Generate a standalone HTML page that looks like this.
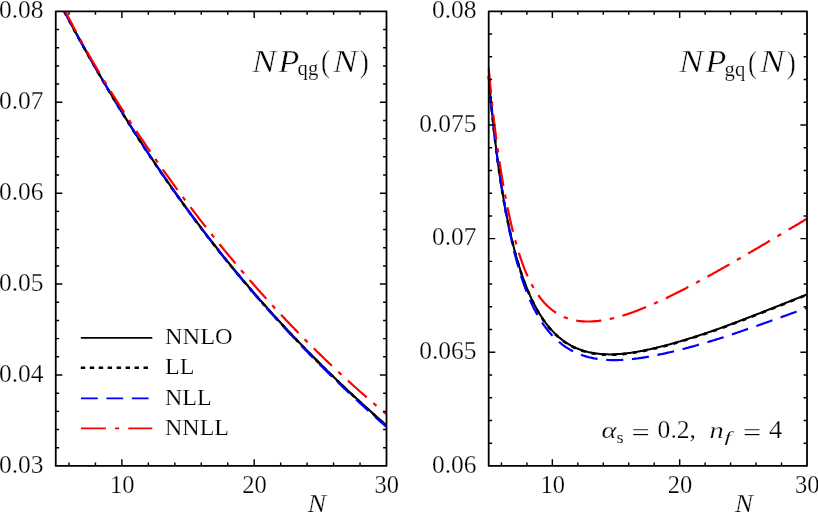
<!DOCTYPE html>
<html><head><meta charset="utf-8"><title>chart</title>
<style>html,body{margin:0;padding:0;background:#fff;overflow:hidden}body{width:818px;height:512px;font-family:"Liberation Serif",serif}</style>
</head><body>
<svg width="818" height="512" viewBox="0 0 818 512" style="display:block;will-change:transform">
<rect width="818" height="512" fill="#fff"/>
<defs>
<clipPath id="cl"><rect x="55.75" y="11.35" width="330.75" height="454.54999999999995"/></clipPath>
<clipPath id="cr"><rect x="487.4" y="11.35" width="319.6" height="454.54999999999995"/></clipPath>
</defs>
<g fill="none" stroke-linecap="butt" stroke-linejoin="round">
<g clip-path="url(#cl)">
<path d="M64.3,11.2 L65.0,12.6 L66.0,14.5 L67.0,16.3 L68.0,18.2 L69.0,20.1 L70.0,21.9 L71.0,23.8 L72.0,25.7 L73.0,27.5 L74.0,29.4 L75.0,31.2 L76.0,33.0 L77.0,34.8 L78.0,36.7 L79.0,38.5 L80.0,40.3 L81.0,42.1 L82.0,43.9 L83.0,45.7 L84.0,47.5 L85.0,49.3 L86.0,51.1 L87.0,52.9 L88.0,54.6 L89.0,56.4 L90.0,58.2 L91.0,59.9 L92.0,61.7 L93.0,63.4 L94.0,65.2 L95.0,66.9 L96.0,68.7 L97.0,70.4 L98.0,72.1 L99.0,73.8 L100.0,75.6 L101.0,77.3 L102.0,79.0 L103.0,80.7 L104.0,82.4 L105.0,84.1 L106.0,85.8 L107.0,87.5 L108.0,89.1 L109.0,90.8 L110.0,92.5 L111.0,94.2 L112.0,95.8 L113.0,97.5 L114.0,99.1 L115.0,100.8 L116.0,102.4 L117.0,104.1 L118.0,105.7 L119.0,107.3 L120.0,109.0 L121.0,110.6 L122.0,112.2 L123.0,113.8 L124.0,115.4 L125.0,117.1 L126.0,118.7 L127.0,120.3 L128.0,121.9 L129.0,123.4 L130.0,125.0 L131.0,126.6 L132.0,128.2 L133.0,129.8 L134.0,131.3 L135.0,132.9 L136.0,134.5 L137.0,136.0 L138.0,137.6 L139.0,139.1 L140.0,140.7 L141.0,142.2 L142.0,143.7 L143.0,145.3 L144.0,146.8 L145.0,148.3 L146.0,149.8 L147.0,151.4 L148.0,152.9 L149.0,154.4 L150.0,155.9 L151.0,157.4 L152.0,158.9 L153.0,160.4 L154.0,161.9 L155.0,163.3 L156.0,164.8 L157.0,166.3 L158.0,167.8 L159.0,169.2 L160.0,170.7 L161.0,172.2 L162.0,173.6 L163.0,175.1 L164.0,176.5 L165.0,178.0 L166.0,179.4 L167.0,180.9 L168.0,182.3 L169.0,183.7 L170.0,185.1 L171.0,186.6 L172.0,188.0 L173.0,189.4 L174.0,190.8 L175.0,192.2 L176.0,193.6 L177.0,195.0 L178.0,196.4 L179.0,197.8 L180.0,199.2 L181.0,200.6 L182.0,202.0 L183.0,203.4 L184.0,204.7 L185.0,206.1 L186.0,207.5 L187.0,208.9 L188.0,210.2 L189.0,211.6 L190.0,212.9 L191.0,214.3 L192.0,215.6 L193.0,217.0 L194.0,218.3 L195.0,219.7 L196.0,221.0 L197.0,222.3 L198.0,223.7 L199.0,225.0 L200.0,226.3 L201.0,227.6 L202.0,228.9 L203.0,230.3 L204.0,231.6 L205.0,232.9 L206.0,234.2 L207.0,235.5 L208.0,236.8 L209.0,238.1 L210.0,239.3 L211.0,240.6 L212.0,241.9 L213.0,243.2 L214.0,244.5 L215.0,245.7 L216.0,247.0 L217.0,248.3 L218.0,249.5 L219.0,250.8 L220.0,252.1 L221.0,253.3 L222.0,254.6 L223.0,255.8 L224.0,257.1 L225.0,258.3 L226.0,259.5 L227.0,260.8 L228.0,262.0 L229.0,263.2 L230.0,264.5 L231.0,265.7 L232.0,266.9 L233.0,268.1 L234.0,269.3 L235.0,270.5 L236.0,271.7 L237.0,272.9 L238.0,274.1 L239.0,275.3 L240.0,276.5 L241.0,277.7 L242.0,278.9 L243.0,280.1 L244.0,281.3 L245.0,282.5 L246.0,283.7 L247.0,284.8 L248.0,286.0 L249.0,287.2 L250.0,288.3 L251.0,289.5 L252.0,290.7 L253.0,291.8 L254.0,293.0 L255.0,294.1 L256.0,295.3 L257.0,296.4 L258.0,297.6 L259.0,298.7 L260.0,299.9 L261.0,301.0 L262.0,302.1 L263.0,303.3 L264.0,304.4 L265.0,305.5 L266.0,306.6 L267.0,307.8 L268.0,308.9 L269.0,310.0 L270.0,311.1 L271.0,312.2 L272.0,313.3 L273.0,314.4 L274.0,315.5 L275.0,316.6 L276.0,317.7 L277.0,318.8 L278.0,319.9 L279.0,321.0 L280.0,322.1 L281.0,323.2 L282.0,324.2 L283.0,325.3 L284.0,326.4 L285.0,327.5 L286.0,328.5 L287.0,329.6 L288.0,330.7 L289.0,331.7 L290.0,332.8 L291.0,333.9 L292.0,334.9 L293.0,336.0 L294.0,337.0 L295.0,338.1 L296.0,339.1 L297.0,340.2 L298.0,341.2 L299.0,342.2 L300.0,343.3 L301.0,344.3 L302.0,345.4 L303.0,346.4 L304.0,347.4 L305.0,348.4 L306.0,349.5 L307.0,350.5 L308.0,351.5 L309.0,352.5 L310.0,353.5 L311.0,354.6 L312.0,355.6 L313.0,356.6 L314.0,357.6 L315.0,358.6 L316.0,359.6 L317.0,360.6 L318.0,361.6 L319.0,362.6 L320.0,363.6 L321.0,364.6 L322.0,365.6 L323.0,366.5 L324.0,367.5 L325.0,368.5 L326.0,369.5 L327.0,370.5 L328.0,371.5 L329.0,372.4 L330.0,373.4 L331.0,374.4 L332.0,375.3 L333.0,376.3 L334.0,377.3 L335.0,378.2 L336.0,379.2 L337.0,380.2 L338.0,381.1 L339.0,382.1 L340.0,383.0 L341.0,384.0 L342.0,384.9 L343.0,385.9 L344.0,386.8 L345.0,387.8 L346.0,388.7 L347.0,389.7 L348.0,390.6 L349.0,391.5 L350.0,392.5 L351.0,393.4 L352.0,394.3 L353.0,395.3 L354.0,396.2 L355.0,397.1 L356.0,398.0 L357.0,399.0 L358.0,399.9 L359.0,400.8 L360.0,401.7 L361.0,402.6 L362.0,403.6 L363.0,404.5 L364.0,405.4 L365.0,406.3 L366.0,407.2 L367.0,408.1 L368.0,409.0 L369.0,409.9 L370.0,410.8 L371.0,411.7 L372.0,412.6 L373.0,413.5 L374.0,414.4 L375.0,415.3 L376.0,416.2 L377.0,417.1 L378.0,418.0 L379.0,418.9 L380.0,419.8 L381.0,420.6 L382.0,421.5 L383.0,422.4 L384.0,423.3 L385.0,424.2 L386.0,425.0 L386.5,425.5" stroke="#000" stroke-width="2.2"/>
<path d="M64.3,11.6 L65.0,13.0 L66.0,14.9 L67.0,16.7 L68.0,18.6 L69.0,20.5 L70.0,22.3 L71.0,24.2 L72.0,26.1 L73.0,27.9 L74.0,29.8 L75.0,31.6 L76.0,33.4 L77.0,35.2 L78.0,37.1 L79.0,38.9 L80.0,40.7 L81.0,42.5 L82.0,44.3 L83.0,46.1 L84.0,47.9 L85.0,49.7 L86.0,51.5 L87.0,53.3 L88.0,55.0 L89.0,56.8 L90.0,58.6 L91.0,60.3 L92.0,62.1 L93.0,63.8 L94.0,65.6 L95.0,67.3 L96.0,69.1 L97.0,70.8 L98.0,72.5 L99.0,74.2 L100.0,76.0 L101.0,77.7 L102.0,79.4 L103.0,81.1 L104.0,82.8 L105.0,84.5 L106.0,86.2 L107.0,87.9 L108.0,89.5 L109.0,91.2 L110.0,92.9 L111.0,94.6 L112.0,96.2 L113.0,97.9 L114.0,99.5 L115.0,101.2 L116.0,102.8 L117.0,104.5 L118.0,106.1 L119.0,107.7 L120.0,109.4 L121.0,111.0 L122.0,112.6 L123.0,114.2 L124.0,115.8 L125.0,117.5 L126.0,119.1 L127.0,120.7 L128.0,122.3 L129.0,123.8 L130.0,125.4 L131.0,127.0 L132.0,128.6 L133.0,130.2 L134.0,131.7 L135.0,133.3 L136.0,134.9 L137.0,136.4 L138.0,138.0 L139.0,139.5 L140.0,141.1 L141.0,142.6 L142.0,144.1 L143.0,145.7 L144.0,147.2 L145.0,148.7 L146.0,150.2 L147.0,151.8 L148.0,153.3 L149.0,154.8 L150.0,156.3 L151.0,157.8 L152.0,159.3 L153.0,160.8 L154.0,162.3 L155.0,163.7 L156.0,165.2 L157.0,166.7 L158.0,168.2 L159.0,169.6 L160.0,171.1 L161.0,172.6 L162.0,174.0 L163.0,175.5 L164.0,176.9 L165.0,178.4 L166.0,179.8 L167.0,181.3 L168.0,182.7 L169.0,184.1 L170.0,185.5 L171.0,187.0 L172.0,188.4 L173.0,189.8 L174.0,191.2 L175.0,192.6 L176.0,194.0 L177.0,195.4 L178.0,196.8 L179.0,198.2 L180.0,199.6 L181.0,201.0 L182.0,202.4 L183.0,203.8 L184.0,205.1 L185.0,206.5 L186.0,207.9 L187.0,209.3 L188.0,210.6 L189.0,212.0 L190.0,213.3 L191.0,214.7 L192.0,216.0 L193.0,217.4 L194.0,218.7 L195.0,220.1 L196.0,221.4 L197.0,222.7 L198.0,224.1 L199.0,225.4 L200.0,226.7 L201.0,228.0 L202.0,229.3 L203.0,230.7 L204.0,232.0 L205.0,233.3 L206.0,234.6 L207.0,235.9 L208.0,237.2 L209.0,238.5 L210.0,239.7 L211.0,241.0 L212.0,242.3 L213.0,243.6 L214.0,244.9 L215.0,246.1 L216.0,247.4 L217.0,248.7 L218.0,249.9 L219.0,251.2 L220.0,252.5 L221.0,253.7 L222.0,255.0 L223.0,256.2 L224.0,257.5 L225.0,258.7 L226.0,259.9 L227.0,261.2 L228.0,262.4 L229.0,263.6 L230.0,264.9 L231.0,266.1 L232.0,267.3 L233.0,268.5 L234.0,269.7 L235.0,270.9 L236.0,272.1 L237.0,273.3 L238.0,274.5 L239.0,275.7 L240.0,276.9 L241.0,278.1 L242.0,279.3 L243.0,280.5 L244.0,281.7 L245.0,282.9 L246.0,284.1 L247.0,285.2 L248.0,286.4 L249.0,287.6 L250.0,288.7 L251.0,289.9 L252.0,291.1 L253.0,292.2 L254.0,293.4 L255.0,294.5 L256.0,295.7 L257.0,296.8 L258.0,298.0 L259.0,299.1 L260.0,300.3 L261.0,301.4 L262.0,302.5 L263.0,303.7 L264.0,304.8 L265.0,305.9 L266.0,307.0 L267.0,308.2 L268.0,309.3 L269.0,310.4 L270.0,311.5 L271.0,312.6 L272.0,313.7 L273.0,314.8 L274.0,315.9 L275.0,317.0 L276.0,318.1 L277.0,319.2 L278.0,320.3 L279.0,321.4 L280.0,322.5 L281.0,323.6 L282.0,324.6 L283.0,325.7 L284.0,326.8 L285.0,327.9 L286.0,328.9 L287.0,330.0 L288.0,331.1 L289.0,332.1 L290.0,333.2 L291.0,334.3 L292.0,335.3 L293.0,336.4 L294.0,337.4 L295.0,338.5 L296.0,339.5 L297.0,340.6 L298.0,341.6 L299.0,342.6 L300.0,343.7 L301.0,344.7 L302.0,345.8 L303.0,346.8 L304.0,347.8 L305.0,348.8 L306.0,349.9 L307.0,350.9 L308.0,351.9 L309.0,352.9 L310.0,353.9 L311.0,355.0 L312.0,356.0 L313.0,357.0 L314.0,358.0 L315.0,359.0 L316.0,360.0 L317.0,361.0 L318.0,362.0 L319.0,363.0 L320.0,364.0 L321.0,365.0 L322.0,366.0 L323.0,366.9 L324.0,367.9 L325.0,368.9 L326.0,369.9 L327.0,370.9 L328.0,371.9 L329.0,372.8 L330.0,373.8 L331.0,374.8 L332.0,375.7 L333.0,376.7 L334.0,377.7 L335.0,378.6 L336.0,379.6 L337.0,380.6 L338.0,381.5 L339.0,382.5 L340.0,383.4 L341.0,384.4 L342.0,385.3 L343.0,386.3 L344.0,387.2 L345.0,388.2 L346.0,389.1 L347.0,390.1 L348.0,391.0 L349.0,391.9 L350.0,392.9 L351.0,393.8 L352.0,394.7 L353.0,395.7 L354.0,396.6 L355.0,397.5 L356.0,398.4 L357.0,399.4 L358.0,400.3 L359.0,401.2 L360.0,402.1 L361.0,403.0 L362.0,404.0 L363.0,404.9 L364.0,405.8 L365.0,406.7 L366.0,407.6 L367.0,408.5 L368.0,409.4 L369.0,410.3 L370.0,411.2 L371.0,412.1 L372.0,413.0 L373.0,413.9 L374.0,414.8 L375.0,415.7 L376.0,416.6 L377.0,417.5 L378.0,418.4 L379.0,419.3 L380.0,420.2 L381.0,421.0 L382.0,421.9 L383.0,422.8 L384.0,423.7 L385.0,424.6 L386.0,425.4 L386.5,425.9" stroke="#000" stroke-width="2.5" stroke-dasharray="4.4 5.4"/>
<path d="M64.3,11.2 L65.0,12.6 L66.0,14.5 L67.0,16.3 L68.0,18.2 L69.0,20.1 L70.0,21.9 L71.0,23.8 L72.0,25.7 L73.0,27.5 L74.0,29.4 L75.0,31.2 L76.0,33.0 L77.0,34.8 L78.0,36.7 L79.0,38.5 L80.0,40.3 L81.0,42.1 L82.0,43.9 L83.0,45.7 L84.0,47.5 L85.0,49.3 L86.0,51.1 L87.0,52.9 L88.0,54.6 L89.0,56.4 L90.0,58.2 L91.0,59.9 L92.0,61.7 L93.0,63.4 L94.0,65.2 L95.0,66.9 L96.0,68.7 L97.0,70.4 L98.0,72.1 L99.0,73.8 L100.0,75.6 L101.0,77.3 L102.0,79.0 L103.0,80.7 L104.0,82.4 L105.0,84.1 L106.0,85.8 L107.0,87.5 L108.0,89.1 L109.0,90.8 L110.0,92.5 L111.0,94.2 L112.0,95.8 L113.0,97.5 L114.0,99.1 L115.0,100.8 L116.0,102.4 L117.0,104.1 L118.0,105.7 L119.0,107.3 L120.0,109.0 L121.0,110.6 L122.0,112.2 L123.0,113.8 L124.0,115.4 L125.0,117.1 L126.0,118.7 L127.0,120.3 L128.0,121.9 L129.0,123.4 L130.0,125.0 L131.0,126.6 L132.0,128.2 L133.0,129.8 L134.0,131.3 L135.0,132.9 L136.0,134.5 L137.0,136.0 L138.0,137.6 L139.0,139.1 L140.0,140.7 L141.0,142.2 L142.0,143.7 L143.0,145.3 L144.0,146.8 L145.0,148.3 L146.0,149.8 L147.0,151.4 L148.0,152.9 L149.0,154.4 L150.0,155.9 L151.0,157.4 L152.0,158.9 L153.0,160.4 L154.0,161.9 L155.0,163.4 L156.0,164.9 L157.0,166.3 L158.0,167.8 L159.0,169.3 L160.0,170.8 L161.0,172.2 L162.0,173.7 L163.0,175.2 L164.0,176.6 L165.0,178.1 L166.0,179.5 L167.0,181.0 L168.0,182.4 L169.0,183.8 L170.0,185.3 L171.0,186.7 L172.0,188.1 L173.0,189.6 L174.0,191.0 L175.0,192.4 L176.0,193.8 L177.0,195.2 L178.0,196.6 L179.0,198.0 L180.0,199.4 L181.0,200.8 L182.0,202.2 L183.0,203.6 L184.0,205.0 L185.0,206.4 L186.0,207.7 L187.0,209.1 L188.0,210.5 L189.0,211.8 L190.0,213.2 L191.0,214.6 L192.0,215.9 L193.0,217.3 L194.0,218.6 L195.0,220.0 L196.0,221.3 L197.0,222.6 L198.0,224.0 L199.0,225.3 L200.0,226.6 L201.0,228.0 L202.0,229.3 L203.0,230.6 L204.0,231.9 L205.0,233.2 L206.0,234.5 L207.0,235.8 L208.0,237.1 L209.0,238.4 L210.0,239.7 L211.0,241.0 L212.0,242.3 L213.0,243.6 L214.0,244.9 L215.0,246.2 L216.0,247.4 L217.0,248.7 L218.0,250.0 L219.0,251.2 L220.0,252.5 L221.0,253.8 L222.0,255.0 L223.0,256.3 L224.0,257.5 L225.0,258.8 L226.0,260.0 L227.0,261.3 L228.0,262.5 L229.0,263.7 L230.0,265.0 L231.0,266.2 L232.0,267.4 L233.0,268.7 L234.0,269.9 L235.0,271.1 L236.0,272.3 L237.0,273.5 L238.0,274.7 L239.0,275.9 L240.0,277.1 L241.0,278.3 L242.0,279.5 L243.0,280.7 L244.0,281.9 L245.0,283.1 L246.0,284.3 L247.0,285.5 L248.0,286.6 L249.0,287.8 L250.0,289.0 L251.0,290.2 L252.0,291.3 L253.0,292.5 L254.0,293.7 L255.0,294.8 L256.0,296.0 L257.0,297.1 L258.0,298.3 L259.0,299.4 L260.0,300.6 L261.0,301.7 L262.0,302.9 L263.0,304.0 L264.0,305.1 L265.0,306.3 L266.0,307.4 L267.0,308.5 L268.0,309.6 L269.0,310.8 L270.0,311.9 L271.0,313.0 L272.0,314.1 L273.0,315.2 L274.0,316.3 L275.0,317.4 L276.0,318.5 L277.0,319.6 L278.0,320.7 L279.0,321.8 L280.0,322.9 L281.0,324.0 L282.0,325.1 L283.0,326.2 L284.0,327.3 L285.0,328.3 L286.0,329.4 L287.0,330.5 L288.0,331.6 L289.0,332.6 L290.0,333.7 L291.0,334.8 L292.0,335.8 L293.0,336.9 L294.0,338.0 L295.0,339.0 L296.0,340.1 L297.0,341.1 L298.0,342.2 L299.0,343.2 L300.0,344.3 L301.0,345.3 L302.0,346.3 L303.0,347.4 L304.0,348.4 L305.0,349.5 L306.0,350.5 L307.0,351.5 L308.0,352.5 L309.0,353.6 L310.0,354.6 L311.0,355.6 L312.0,356.6 L313.0,357.6 L314.0,358.7 L315.0,359.7 L316.0,360.7 L317.0,361.7 L318.0,362.7 L319.0,363.7 L320.0,364.7 L321.0,365.7 L322.0,366.7 L323.0,367.7 L324.0,368.7 L325.0,369.7 L326.0,370.6 L327.0,371.6 L328.0,372.6 L329.0,373.6 L330.0,374.6 L331.0,375.6 L332.0,376.5 L333.0,377.5 L334.0,378.5 L335.0,379.4 L336.0,380.4 L337.0,381.4 L338.0,382.3 L339.0,383.3 L340.0,384.3 L341.0,385.2 L342.0,386.2 L343.0,387.1 L344.0,388.1 L345.0,389.0 L346.0,390.0 L347.0,390.9 L348.0,391.9 L349.0,392.8 L350.0,393.8 L351.0,394.7 L352.0,395.7 L353.0,396.6 L354.0,397.5 L355.0,398.5 L356.0,399.4 L357.0,400.3 L358.0,401.2 L359.0,402.2 L360.0,403.1 L361.0,404.0 L362.0,404.9 L363.0,405.9 L364.0,406.8 L365.0,407.7 L366.0,408.6 L367.0,409.5 L368.0,410.4 L369.0,411.3 L370.0,412.3 L371.0,413.2 L372.0,414.1 L373.0,415.0 L374.0,415.9 L375.0,416.8 L376.0,417.7 L377.0,418.6 L378.0,419.5 L379.0,420.4 L380.0,421.3 L381.0,422.1 L382.0,423.0 L383.0,423.9 L384.0,424.8 L385.0,425.7 L386.0,426.5 L386.5,427.0" stroke="#00f" stroke-width="2.2" stroke-dasharray="16.9 8.8"/>
<path d="M64.3,11.2 L65.0,10.6 L66.0,12.6 L67.0,14.5 L68.0,16.5 L69.0,18.4 L70.0,20.3 L71.0,22.2 L72.0,24.1 L73.0,26.0 L74.0,27.9 L75.0,29.8 L76.0,31.6 L77.0,33.5 L78.0,35.3 L79.0,37.2 L80.0,39.0 L81.0,40.8 L82.0,42.6 L83.0,44.4 L84.0,46.2 L85.0,48.0 L86.0,49.8 L87.0,51.5 L88.0,53.3 L89.0,55.1 L90.0,56.8 L91.0,58.5 L92.0,60.3 L93.0,62.0 L94.0,63.7 L95.0,65.4 L96.0,67.1 L97.0,68.8 L98.0,70.5 L99.0,72.2 L100.0,73.8 L101.0,75.5 L102.0,77.2 L103.0,78.8 L104.0,80.5 L105.0,82.1 L106.0,83.7 L107.0,85.4 L108.0,87.0 L109.0,88.6 L110.0,90.2 L111.0,91.8 L112.0,93.4 L113.0,95.0 L114.0,96.6 L115.0,98.2 L116.0,99.8 L117.0,101.4 L118.0,102.9 L119.0,104.5 L120.0,106.1 L121.0,107.6 L122.0,109.2 L123.0,110.7 L124.0,112.3 L125.0,113.8 L126.0,115.3 L127.0,116.9 L128.0,118.4 L129.0,119.9 L130.0,121.5 L131.0,123.0 L132.0,124.5 L133.0,126.0 L134.0,127.5 L135.0,129.0 L136.0,130.5 L137.0,132.0 L138.0,133.5 L139.0,135.0 L140.0,136.5 L141.0,138.0 L142.0,139.5 L143.0,140.9 L144.0,142.4 L145.0,143.9 L146.0,145.4 L147.0,146.8 L148.0,148.3 L149.0,149.7 L150.0,151.2 L151.0,152.6 L152.0,154.1 L153.0,155.5 L154.0,157.0 L155.0,158.4 L156.0,159.8 L157.0,161.3 L158.0,162.7 L159.0,164.1 L160.0,165.5 L161.0,166.9 L162.0,168.3 L163.0,169.8 L164.0,171.2 L165.0,172.6 L166.0,174.0 L167.0,175.4 L168.0,176.7 L169.0,178.1 L170.0,179.5 L171.0,180.9 L172.0,182.3 L173.0,183.7 L174.0,185.0 L175.0,186.4 L176.0,187.8 L177.0,189.1 L178.0,190.5 L179.0,191.8 L180.0,193.2 L181.0,194.5 L182.0,195.9 L183.0,197.2 L184.0,198.6 L185.0,199.9 L186.0,201.2 L187.0,202.6 L188.0,203.9 L189.0,205.2 L190.0,206.5 L191.0,207.9 L192.0,209.2 L193.0,210.5 L194.0,211.8 L195.0,213.1 L196.0,214.4 L197.0,215.7 L198.0,217.0 L199.0,218.3 L200.0,219.6 L201.0,220.9 L202.0,222.2 L203.0,223.4 L204.0,224.7 L205.0,226.0 L206.0,227.3 L207.0,228.5 L208.0,229.8 L209.0,231.1 L210.0,232.3 L211.0,233.6 L212.0,234.8 L213.0,236.1 L214.0,237.3 L215.0,238.6 L216.0,239.8 L217.0,241.1 L218.0,242.3 L219.0,243.5 L220.0,244.8 L221.0,246.0 L222.0,247.2 L223.0,248.4 L224.0,249.7 L225.0,250.9 L226.0,252.1 L227.0,253.3 L228.0,254.5 L229.0,255.7 L230.0,256.9 L231.0,258.1 L232.0,259.3 L233.0,260.5 L234.0,261.7 L235.0,262.9 L236.0,264.1 L237.0,265.3 L238.0,266.5 L239.0,267.6 L240.0,268.8 L241.0,270.0 L242.0,271.2 L243.0,272.3 L244.0,273.5 L245.0,274.6 L246.0,275.8 L247.0,277.0 L248.0,278.1 L249.0,279.3 L250.0,280.4 L251.0,281.6 L252.0,282.7 L253.0,283.8 L254.0,285.0 L255.0,286.1 L256.0,287.2 L257.0,288.4 L258.0,289.5 L259.0,290.6 L260.0,291.7 L261.0,292.9 L262.0,294.0 L263.0,295.1 L264.0,296.2 L265.0,297.3 L266.0,298.4 L267.0,299.5 L268.0,300.6 L269.0,301.7 L270.0,302.8 L271.0,303.9 L272.0,305.0 L273.0,306.1 L274.0,307.2 L275.0,308.3 L276.0,309.3 L277.0,310.4 L278.0,311.5 L279.0,312.6 L280.0,313.6 L281.0,314.7 L282.0,315.8 L283.0,316.8 L284.0,317.9 L285.0,318.9 L286.0,320.0 L287.0,321.0 L288.0,322.1 L289.0,323.1 L290.0,324.2 L291.0,325.2 L292.0,326.3 L293.0,327.3 L294.0,328.3 L295.0,329.4 L296.0,330.4 L297.0,331.4 L298.0,332.5 L299.0,333.5 L300.0,334.5 L301.0,335.5 L302.0,336.5 L303.0,337.5 L304.0,338.6 L305.0,339.6 L306.0,340.6 L307.0,341.6 L308.0,342.6 L309.0,343.6 L310.0,344.6 L311.0,345.6 L312.0,346.6 L313.0,347.5 L314.0,348.5 L315.0,349.5 L316.0,350.5 L317.0,351.5 L318.0,352.5 L319.0,353.4 L320.0,354.4 L321.0,355.4 L322.0,356.3 L323.0,357.3 L324.0,358.3 L325.0,359.2 L326.0,360.2 L327.0,361.1 L328.0,362.1 L329.0,363.1 L330.0,364.0 L331.0,365.0 L332.0,365.9 L333.0,366.8 L334.0,367.8 L335.0,368.7 L336.0,369.7 L337.0,370.6 L338.0,371.5 L339.0,372.5 L340.0,373.4 L341.0,374.3 L342.0,375.2 L343.0,376.2 L344.0,377.1 L345.0,378.0 L346.0,378.9 L347.0,379.8 L348.0,380.7 L349.0,381.6 L350.0,382.5 L351.0,383.4 L352.0,384.3 L353.0,385.2 L354.0,386.1 L355.0,387.0 L356.0,387.9 L357.0,388.8 L358.0,389.7 L359.0,390.6 L360.0,391.5 L361.0,392.4 L362.0,393.2 L363.0,394.1 L364.0,395.0 L365.0,395.9 L366.0,396.7 L367.0,397.6 L368.0,398.5 L369.0,399.3 L370.0,400.2 L371.0,401.1 L372.0,401.9 L373.0,402.8 L374.0,403.6 L375.0,404.5 L376.0,405.4 L377.0,406.2 L378.0,407.0 L379.0,407.9 L380.0,408.7 L381.0,409.6 L382.0,410.4 L383.0,411.3 L384.0,412.1 L385.0,412.9 L386.0,413.8 L386.5,414.2" stroke="#f00" stroke-width="2.2" stroke-dasharray="25.2 8.7 4.3 8.7"/>
</g>
<g clip-path="url(#cr)">
<path d="M488.7,75.8 L489.2,81.7 L489.7,87.4 L490.2,92.9 L490.7,98.3 L491.2,103.5 L491.7,108.6 L492.2,113.6 L492.7,118.4 L493.2,123.1 L493.7,127.7 L494.2,132.2 L494.7,136.5 L495.2,140.8 L495.7,144.9 L496.2,149.0 L496.7,152.9 L497.2,156.8 L497.7,160.6 L498.2,164.2 L498.7,167.8 L499.2,171.4 L499.7,174.8 L500.2,178.2 L500.7,181.4 L501.2,184.7 L501.7,187.8 L502.2,190.9 L502.7,193.9 L503.2,196.9 L503.7,199.8 L504.2,202.6 L504.7,205.4 L505.2,208.1 L505.7,210.8 L506.2,213.4 L506.7,215.9 L507.2,218.4 L507.7,220.9 L508.2,223.3 L508.7,225.7 L509.2,228.0 L509.7,230.3 L510.2,232.5 L510.7,234.7 L511.2,236.9 L511.7,239.0 L512.2,241.1 L512.7,243.1 L513.2,245.1 L513.7,247.1 L514.2,249.0 L514.7,250.9 L515.2,252.7 L515.7,254.6 L516.2,256.4 L516.7,258.1 L517.2,259.9 L517.7,261.6 L518.2,263.2 L518.7,264.9 L519.2,266.5 L519.7,268.1 L520.2,269.6 L520.7,271.2 L521.2,272.7 L521.7,274.2 L522.2,275.6 L522.7,277.0 L523.2,278.4 L523.7,279.8 L524.2,281.2 L524.7,282.5 L525.2,283.9 L525.7,285.1 L526.2,286.4 L526.7,287.7 L527.2,288.9 L527.7,290.1 L528.2,291.3 L528.7,292.5 L529.2,293.6 L529.7,294.8 L530.2,295.9 L530.7,297.0 L531.2,298.1 L531.7,299.1 L532.2,300.2 L532.7,301.2 L533.2,302.2 L533.7,303.2 L534.2,304.2 L534.7,305.2 L535.2,306.1 L535.7,307.0 L536.2,308.0 L536.7,308.9 L537.2,309.8 L537.7,310.6 L538.2,311.5 L538.7,312.3 L539.2,313.2 L539.7,314.0 L540.0,314.5 L541.0,316.1 L542.0,317.6 L543.0,319.1 L544.0,320.5 L545.0,321.9 L546.0,323.3 L547.0,324.6 L548.0,325.8 L549.0,327.1 L550.0,328.2 L551.0,329.4 L552.0,330.5 L553.0,331.6 L554.0,332.6 L555.0,333.6 L556.0,334.6 L557.0,335.5 L558.0,336.4 L559.0,337.3 L560.0,338.1 L561.0,338.9 L562.0,339.7 L563.0,340.5 L564.0,341.2 L565.0,341.9 L566.0,342.6 L567.0,343.2 L568.0,343.8 L569.0,344.4 L570.0,345.0 L571.0,345.6 L572.0,346.1 L573.0,346.6 L574.0,347.1 L575.0,347.5 L576.0,348.0 L577.0,348.4 L578.0,348.8 L579.0,349.2 L580.0,349.6 L581.0,349.9 L582.0,350.3 L583.0,350.6 L584.0,350.9 L585.0,351.2 L586.0,351.5 L587.0,351.7 L588.0,352.0 L589.0,352.2 L590.0,352.4 L591.0,352.6 L592.0,352.8 L593.0,353.0 L594.0,353.2 L595.0,353.3 L596.0,353.5 L597.0,353.6 L598.0,353.7 L599.0,353.8 L600.0,353.9 L601.0,354.0 L602.0,354.1 L603.0,354.2 L604.0,354.2 L605.0,354.3 L606.0,354.3 L607.0,354.3 L608.0,354.3 L609.0,354.4 L610.0,354.4 L611.0,354.4 L612.0,354.3 L613.0,354.3 L614.0,354.3 L615.0,354.2 L616.0,354.2 L617.0,354.1 L618.0,354.1 L619.0,354.0 L620.0,353.9 L621.0,353.9 L622.0,353.8 L623.0,353.7 L624.0,353.6 L625.0,353.5 L626.0,353.4 L627.0,353.3 L628.0,353.1 L629.0,353.0 L630.0,352.9 L631.0,352.7 L632.0,352.6 L633.0,352.4 L634.0,352.3 L635.0,352.1 L636.0,351.9 L637.0,351.8 L638.0,351.6 L639.0,351.4 L640.0,351.2 L641.0,351.0 L642.0,350.9 L643.0,350.7 L644.0,350.5 L645.0,350.2 L646.0,350.0 L647.0,349.8 L648.0,349.6 L649.0,349.4 L650.0,349.2 L651.0,348.9 L652.0,348.7 L653.0,348.5 L654.0,348.2 L655.0,348.0 L656.0,347.8 L657.0,347.5 L658.0,347.3 L659.0,347.0 L660.0,346.8 L661.0,346.5 L662.0,346.3 L663.0,346.0 L664.0,345.8 L665.0,345.5 L666.0,345.3 L667.0,345.0 L668.0,344.7 L669.0,344.5 L670.0,344.2 L671.0,343.9 L672.0,343.6 L673.0,343.4 L674.0,343.1 L675.0,342.8 L676.0,342.5 L677.0,342.2 L678.0,341.9 L679.0,341.6 L680.0,341.4 L681.0,341.1 L682.0,340.8 L683.0,340.5 L684.0,340.2 L685.0,339.9 L686.0,339.5 L687.0,339.2 L688.0,338.9 L689.0,338.6 L690.0,338.3 L691.0,338.0 L692.0,337.7 L693.0,337.4 L694.0,337.0 L695.0,336.7 L696.0,336.4 L697.0,336.1 L698.0,335.7 L699.0,335.4 L700.0,335.1 L701.0,334.8 L702.0,334.4 L703.0,334.1 L704.0,333.8 L705.0,333.4 L706.0,333.1 L707.0,332.8 L708.0,332.4 L709.0,332.1 L710.0,331.7 L711.0,331.4 L712.0,331.1 L713.0,330.7 L714.0,330.4 L715.0,330.0 L716.0,329.7 L717.0,329.3 L718.0,329.0 L719.0,328.6 L720.0,328.3 L721.0,327.9 L722.0,327.5 L723.0,327.2 L724.0,326.8 L725.0,326.4 L726.0,326.1 L727.0,325.7 L728.0,325.3 L729.0,324.9 L730.0,324.6 L731.0,324.2 L732.0,323.8 L733.0,323.4 L734.0,323.1 L735.0,322.7 L736.0,322.3 L737.0,321.9 L738.0,321.6 L739.0,321.2 L740.0,320.8 L741.0,320.4 L742.0,320.0 L743.0,319.7 L744.0,319.3 L745.0,318.9 L746.0,318.5 L747.0,318.1 L748.0,317.7 L749.0,317.3 L750.0,317.0 L751.0,316.6 L752.0,316.2 L753.0,315.8 L754.0,315.4 L755.0,315.0 L756.0,314.6 L757.0,314.2 L758.0,313.8 L759.0,313.5 L760.0,313.1 L761.0,312.7 L762.0,312.3 L763.0,311.9 L764.0,311.5 L765.0,311.1 L766.0,310.7 L767.0,310.3 L768.0,309.9 L769.0,309.5 L770.0,309.1 L771.0,308.7 L772.0,308.4 L773.0,308.0 L774.0,307.6 L775.0,307.2 L776.0,306.8 L777.0,306.4 L778.0,306.0 L779.0,305.6 L780.0,305.2 L781.0,304.8 L782.0,304.4 L783.0,304.0 L784.0,303.6 L785.0,303.2 L786.0,302.8 L787.0,302.4 L788.0,302.0 L789.0,301.6 L790.0,301.2 L791.0,300.8 L792.0,300.4 L793.0,300.0 L794.0,299.6 L795.0,299.2 L796.0,298.8 L797.0,298.4 L798.0,298.0 L799.0,297.6 L800.0,297.2 L801.0,296.8 L802.0,296.4 L803.0,296.0 L804.0,295.6 L805.0,295.2 L806.0,294.8 L807.0,294.4" stroke="#000" stroke-width="2.05"/>
<path d="M488.7,76.2 L489.2,82.1 L489.7,87.8 L490.2,93.3 L490.7,98.7 L491.2,103.9 L491.7,109.0 L492.2,114.0 L492.7,118.8 L493.2,123.5 L493.7,128.1 L494.2,132.6 L494.7,136.9 L495.2,141.2 L495.7,145.3 L496.2,149.4 L496.7,153.3 L497.2,157.2 L497.7,161.0 L498.2,164.6 L498.7,168.2 L499.2,171.8 L499.7,175.2 L500.2,178.6 L500.7,181.8 L501.2,185.1 L501.7,188.2 L502.2,191.3 L502.7,194.3 L503.2,197.3 L503.7,200.2 L504.2,203.0 L504.7,205.8 L505.2,208.5 L505.7,211.2 L506.2,213.8 L506.7,216.3 L507.2,218.8 L507.7,221.3 L508.2,223.7 L508.7,226.1 L509.2,228.4 L509.7,230.7 L510.2,232.9 L510.7,235.1 L511.2,237.3 L511.7,239.4 L512.2,241.5 L512.7,243.5 L513.2,245.5 L513.7,247.5 L514.2,249.4 L514.7,251.3 L515.2,253.1 L515.7,255.0 L516.2,256.8 L516.7,258.5 L517.2,260.3 L517.7,262.0 L518.2,263.6 L518.7,265.3 L519.2,266.9 L519.7,268.5 L520.2,270.0 L520.7,271.6 L521.2,273.1 L521.7,274.6 L522.2,276.0 L522.7,277.4 L523.2,278.8 L523.7,280.2 L524.2,281.6 L524.7,282.9 L525.2,284.3 L525.7,285.5 L526.2,286.8 L526.7,288.1 L527.2,289.3 L527.7,290.5 L528.2,291.7 L528.7,292.9 L529.2,294.0 L529.7,295.2 L530.2,296.3 L530.7,297.4 L531.2,298.5 L531.7,299.5 L532.2,300.6 L532.7,301.6 L533.2,302.6 L533.7,303.6 L534.2,304.6 L534.7,305.6 L535.2,306.5 L535.7,307.4 L536.2,308.4 L536.7,309.3 L537.2,310.2 L537.7,311.0 L538.2,311.9 L538.7,312.7 L539.2,313.6 L539.7,314.4 L540.0,314.9 L541.0,316.5 L542.0,318.0 L543.0,319.5 L544.0,320.9 L545.0,322.3 L546.0,323.7 L547.0,325.0 L548.0,326.2 L549.0,327.5 L550.0,328.6 L551.0,329.8 L552.0,330.9 L553.0,332.0 L554.0,333.0 L555.0,334.0 L556.0,335.0 L557.0,335.9 L558.0,336.8 L559.0,337.7 L560.0,338.5 L561.0,339.3 L562.0,340.1 L563.0,340.9 L564.0,341.6 L565.0,342.3 L566.0,343.0 L567.0,343.6 L568.0,344.2 L569.0,344.8 L570.0,345.4 L571.0,346.0 L572.0,346.5 L573.0,347.0 L574.0,347.5 L575.0,347.9 L576.0,348.4 L577.0,348.8 L578.0,349.2 L579.0,349.6 L580.0,350.0 L581.0,350.3 L582.0,350.7 L583.0,351.0 L584.0,351.3 L585.0,351.6 L586.0,351.9 L587.0,352.1 L588.0,352.4 L589.0,352.6 L590.0,352.8 L591.0,353.0 L592.0,353.2 L593.0,353.4 L594.0,353.6 L595.0,353.7 L596.0,353.9 L597.0,354.0 L598.0,354.1 L599.0,354.2 L600.0,354.3 L601.0,354.4 L602.0,354.5 L603.0,354.6 L604.0,354.6 L605.0,354.7 L606.0,354.7 L607.0,354.7 L608.0,354.7 L609.0,354.8 L610.0,354.8 L611.0,354.8 L612.0,354.7 L613.0,354.7 L614.0,354.7 L615.0,354.6 L616.0,354.6 L617.0,354.5 L618.0,354.5 L619.0,354.4 L620.0,354.3 L621.0,354.3 L622.0,354.2 L623.0,354.1 L624.0,354.0 L625.0,353.9 L626.0,353.8 L627.0,353.7 L628.0,353.5 L629.0,353.4 L630.0,353.3 L631.0,353.1 L632.0,353.0 L633.0,352.8 L634.0,352.7 L635.0,352.5 L636.0,352.3 L637.0,352.2 L638.0,352.0 L639.0,351.8 L640.0,351.6 L641.0,351.4 L642.0,351.3 L643.0,351.1 L644.0,350.9 L645.0,350.6 L646.0,350.4 L647.0,350.2 L648.0,350.0 L649.0,349.8 L650.0,349.6 L651.0,349.3 L652.0,349.1 L653.0,348.9 L654.0,348.6 L655.0,348.4 L656.0,348.2 L657.0,347.9 L658.0,347.7 L659.0,347.4 L660.0,347.2 L661.0,346.9 L662.0,346.7 L663.0,346.4 L664.0,346.2 L665.0,345.9 L666.0,345.7 L667.0,345.4 L668.0,345.1 L669.0,344.9 L670.0,344.6 L671.0,344.3 L672.0,344.0 L673.0,343.8 L674.0,343.5 L675.0,343.2 L676.0,342.9 L677.0,342.6 L678.0,342.3 L679.0,342.0 L680.0,341.8 L681.0,341.5 L682.0,341.2 L683.0,340.9 L684.0,340.6 L685.0,340.3 L686.0,339.9 L687.0,339.6 L688.0,339.3 L689.0,339.0 L690.0,338.7 L691.0,338.4 L692.0,338.1 L693.0,337.8 L694.0,337.4 L695.0,337.1 L696.0,336.8 L697.0,336.5 L698.0,336.1 L699.0,335.8 L700.0,335.5 L701.0,335.2 L702.0,334.8 L703.0,334.5 L704.0,334.2 L705.0,333.8 L706.0,333.5 L707.0,333.2 L708.0,332.8 L709.0,332.5 L710.0,332.1 L711.0,331.8 L712.0,331.5 L713.0,331.1 L714.0,330.8 L715.0,330.4 L716.0,330.1 L717.0,329.7 L718.0,329.4 L719.0,329.0 L720.0,328.7 L721.0,328.3 L722.0,327.9 L723.0,327.6 L724.0,327.2 L725.0,326.8 L726.0,326.5 L727.0,326.1 L728.0,325.7 L729.0,325.3 L730.0,325.0 L731.0,324.6 L732.0,324.2 L733.0,323.8 L734.0,323.5 L735.0,323.1 L736.0,322.7 L737.0,322.3 L738.0,322.0 L739.0,321.6 L740.0,321.2 L741.0,320.8 L742.0,320.4 L743.0,320.1 L744.0,319.7 L745.0,319.3 L746.0,318.9 L747.0,318.5 L748.0,318.1 L749.0,317.7 L750.0,317.4 L751.0,317.0 L752.0,316.6 L753.0,316.2 L754.0,315.8 L755.0,315.4 L756.0,315.0 L757.0,314.6 L758.0,314.2 L759.0,313.9 L760.0,313.5 L761.0,313.1 L762.0,312.7 L763.0,312.3 L764.0,311.9 L765.0,311.5 L766.0,311.1 L767.0,310.7 L768.0,310.3 L769.0,309.9 L770.0,309.5 L771.0,309.1 L772.0,308.8 L773.0,308.4 L774.0,308.0 L775.0,307.6 L776.0,307.2 L777.0,306.8 L778.0,306.4 L779.0,306.0 L780.0,305.6 L781.0,305.2 L782.0,304.8 L783.0,304.4 L784.0,304.0 L785.0,303.6 L786.0,303.2 L787.0,302.8 L788.0,302.4 L789.0,302.0 L790.0,301.6 L791.0,301.2 L792.0,300.8 L793.0,300.4 L794.0,300.0 L795.0,299.6 L796.0,299.2 L797.0,298.8 L798.0,298.4 L799.0,298.0 L800.0,297.6 L801.0,297.2 L802.0,296.8 L803.0,296.4 L804.0,296.0 L805.0,295.6 L806.0,295.2 L807.0,294.8" stroke="#000" stroke-width="2.6" stroke-dasharray="4.4 6"/>
<path d="M488.7,75.8 L489.2,81.9 L489.7,87.7 L490.2,93.4 L490.7,98.8 L491.2,104.1 L491.7,109.2 L492.2,114.2 L492.7,119.0 L493.2,123.6 L493.7,128.2 L494.2,132.6 L494.7,136.9 L495.2,141.1 L495.7,145.2 L496.2,149.1 L496.7,153.0 L497.2,156.8 L497.7,160.6 L498.2,164.2 L498.7,167.8 L499.2,171.2 L499.7,174.7 L500.2,178.0 L500.7,181.3 L501.2,184.5 L501.7,187.7 L502.2,190.8 L502.7,193.9 L503.2,196.9 L503.7,199.9 L504.2,202.8 L504.7,205.6 L505.2,208.5 L505.7,211.2 L506.2,213.9 L506.7,216.6 L507.2,219.2 L507.7,221.8 L508.2,224.3 L508.7,226.8 L509.2,229.2 L509.7,231.6 L510.2,234.0 L510.7,236.3 L511.2,238.6 L511.7,240.8 L512.2,243.0 L512.7,245.2 L513.2,247.3 L513.7,249.4 L514.2,251.4 L514.7,253.4 L515.2,255.4 L515.7,257.3 L516.2,259.2 L516.7,261.1 L517.2,262.9 L517.7,264.7 L518.2,266.5 L518.7,268.2 L519.2,269.9 L519.7,271.6 L520.2,273.2 L520.7,274.8 L521.2,276.4 L521.7,278.0 L522.2,279.5 L522.7,281.0 L523.2,282.5 L523.7,283.9 L524.2,285.3 L524.7,286.7 L525.2,288.1 L525.7,289.4 L526.2,290.7 L526.7,292.0 L527.2,293.3 L527.7,294.6 L528.2,295.8 L528.7,297.0 L529.2,298.2 L529.7,299.3 L530.2,300.5 L530.7,301.6 L531.2,302.7 L531.7,303.8 L532.2,304.8 L532.7,305.9 L533.2,306.9 L533.7,307.9 L534.2,308.9 L534.7,309.9 L535.2,310.8 L535.7,311.8 L536.2,312.7 L536.7,313.6 L537.2,314.5 L537.7,315.4 L538.2,316.2 L538.7,317.1 L539.2,317.9 L539.7,318.7 L540.0,319.2 L541.0,320.8 L542.0,322.4 L543.0,323.8 L544.0,325.3 L545.0,326.7 L546.0,328.0 L547.0,329.3 L548.0,330.5 L549.0,331.8 L550.0,332.9 L551.0,334.1 L552.0,335.2 L553.0,336.2 L554.0,337.2 L555.0,338.2 L556.0,339.2 L557.0,340.1 L558.0,341.0 L559.0,341.9 L560.0,342.7 L561.0,343.5 L562.0,344.3 L563.0,345.1 L564.0,345.8 L565.0,346.5 L566.0,347.2 L567.0,347.8 L568.0,348.4 L569.0,349.1 L570.0,349.6 L571.0,350.2 L572.0,350.7 L573.0,351.3 L574.0,351.8 L575.0,352.3 L576.0,352.7 L577.0,353.2 L578.0,353.6 L579.0,354.0 L580.0,354.4 L581.0,354.8 L582.0,355.1 L583.0,355.5 L584.0,355.8 L585.0,356.1 L586.0,356.4 L587.0,356.7 L588.0,357.0 L589.0,357.3 L590.0,357.5 L591.0,357.7 L592.0,357.9 L593.0,358.2 L594.0,358.4 L595.0,358.5 L596.0,358.7 L597.0,358.9 L598.0,359.0 L599.0,359.2 L600.0,359.3 L601.0,359.4 L602.0,359.5 L603.0,359.6 L604.0,359.7 L605.0,359.8 L606.0,359.9 L607.0,359.9 L608.0,360.0 L609.0,360.0 L610.0,360.1 L611.0,360.1 L612.0,360.1 L613.0,360.1 L614.0,360.1 L615.0,360.1 L616.0,360.1 L617.0,360.1 L618.0,360.1 L619.0,360.0 L620.0,360.0 L621.0,360.0 L622.0,359.9 L623.0,359.9 L624.0,359.8 L625.0,359.7 L626.0,359.7 L627.0,359.6 L628.0,359.5 L629.0,359.4 L630.0,359.3 L631.0,359.2 L632.0,359.1 L633.0,359.0 L634.0,358.9 L635.0,358.7 L636.0,358.6 L637.0,358.5 L638.0,358.4 L639.0,358.2 L640.0,358.1 L641.0,357.9 L642.0,357.8 L643.0,357.6 L644.0,357.4 L645.0,357.3 L646.0,357.1 L647.0,356.9 L648.0,356.8 L649.0,356.6 L650.0,356.4 L651.0,356.2 L652.0,356.0 L653.0,355.8 L654.0,355.6 L655.0,355.4 L656.0,355.2 L657.0,355.0 L658.0,354.8 L659.0,354.6 L660.0,354.4 L661.0,354.2 L662.0,354.0 L663.0,353.8 L664.0,353.6 L665.0,353.4 L666.0,353.1 L667.0,352.9 L668.0,352.7 L669.0,352.5 L670.0,352.2 L671.0,352.0 L672.0,351.8 L673.0,351.5 L674.0,351.3 L675.0,351.1 L676.0,350.8 L677.0,350.6 L678.0,350.3 L679.0,350.1 L680.0,349.8 L681.0,349.6 L682.0,349.3 L683.0,349.0 L684.0,348.8 L685.0,348.5 L686.0,348.2 L687.0,348.0 L688.0,347.7 L689.0,347.4 L690.0,347.2 L691.0,346.9 L692.0,346.6 L693.0,346.3 L694.0,346.1 L695.0,345.8 L696.0,345.5 L697.0,345.2 L698.0,344.9 L699.0,344.6 L700.0,344.4 L701.0,344.1 L702.0,343.8 L703.0,343.5 L704.0,343.2 L705.0,342.9 L706.0,342.6 L707.0,342.3 L708.0,342.0 L709.0,341.7 L710.0,341.4 L711.0,341.1 L712.0,340.8 L713.0,340.5 L714.0,340.2 L715.0,339.9 L716.0,339.6 L717.0,339.3 L718.0,339.0 L719.0,338.7 L720.0,338.3 L721.0,338.0 L722.0,337.7 L723.0,337.4 L724.0,337.0 L725.0,336.7 L726.0,336.4 L727.0,336.0 L728.0,335.7 L729.0,335.4 L730.0,335.0 L731.0,334.7 L732.0,334.4 L733.0,334.0 L734.0,333.7 L735.0,333.4 L736.0,333.0 L737.0,332.7 L738.0,332.3 L739.0,332.0 L740.0,331.7 L741.0,331.3 L742.0,331.0 L743.0,330.6 L744.0,330.3 L745.0,329.9 L746.0,329.6 L747.0,329.2 L748.0,328.9 L749.0,328.6 L750.0,328.2 L751.0,327.9 L752.0,327.5 L753.0,327.2 L754.0,326.8 L755.0,326.5 L756.0,326.1 L757.0,325.8 L758.0,325.4 L759.0,325.1 L760.0,324.7 L761.0,324.4 L762.0,324.0 L763.0,323.6 L764.0,323.3 L765.0,322.9 L766.0,322.6 L767.0,322.2 L768.0,321.9 L769.0,321.5 L770.0,321.2 L771.0,320.8 L772.0,320.4 L773.0,320.1 L774.0,319.7 L775.0,319.4 L776.0,319.0 L777.0,318.7 L778.0,318.3 L779.0,317.9 L780.0,317.6 L781.0,317.2 L782.0,316.9 L783.0,316.5 L784.0,316.1 L785.0,315.8 L786.0,315.4 L787.0,315.1 L788.0,314.7 L789.0,314.3 L790.0,314.0 L791.0,313.6 L792.0,313.2 L793.0,312.9 L794.0,312.5 L795.0,312.2 L796.0,311.8 L797.0,311.4 L798.0,311.1 L799.0,310.7 L800.0,310.3 L801.0,310.0 L802.0,309.6 L803.0,309.2 L804.0,308.9 L805.0,308.5 L806.0,308.2 L807.0,307.8" stroke="#00f" stroke-width="2.2" stroke-dasharray="17 8.8" stroke-dashoffset="3.7"/>
<path d="M488.7,67.9 L489.2,73.6 L489.7,79.2 L490.2,84.6 L490.7,89.8 L491.2,94.8 L491.7,99.7 L492.2,104.5 L492.7,109.1 L493.2,113.6 L493.7,118.0 L494.2,122.3 L494.7,126.5 L495.2,130.5 L495.7,134.5 L496.2,138.4 L496.7,142.2 L497.2,145.8 L497.7,149.4 L498.2,153.0 L498.7,156.4 L499.2,159.8 L499.7,163.1 L500.2,166.4 L500.7,169.5 L501.2,172.6 L501.7,175.7 L502.2,178.7 L502.7,181.6 L503.2,184.5 L503.7,187.3 L504.2,190.1 L504.7,192.8 L505.2,195.5 L505.7,198.1 L506.2,200.7 L506.7,203.3 L507.2,205.8 L507.7,208.2 L508.2,210.6 L508.7,213.0 L509.2,215.3 L509.7,217.6 L510.2,219.9 L510.7,222.1 L511.2,224.2 L511.7,226.4 L512.2,228.5 L512.7,230.5 L513.2,232.5 L513.7,234.5 L514.2,236.4 L514.7,238.3 L515.2,240.2 L515.7,242.0 L516.2,243.8 L516.7,245.6 L517.2,247.3 L517.7,249.0 L518.2,250.6 L518.7,252.2 L519.2,253.8 L519.7,255.4 L520.2,256.9 L520.7,258.4 L521.2,259.9 L521.7,261.3 L522.2,262.7 L522.7,264.1 L523.2,265.5 L523.7,266.8 L524.2,268.1 L524.7,269.3 L525.2,270.6 L525.7,271.8 L526.2,273.0 L526.7,274.1 L527.2,275.3 L527.7,276.4 L528.2,277.5 L528.7,278.5 L529.2,279.6 L529.7,280.6 L530.2,281.6 L530.7,282.6 L531.2,283.5 L531.7,284.5 L532.2,285.4 L532.7,286.3 L533.2,287.2 L533.7,288.1 L534.2,288.9 L534.7,289.7 L535.2,290.5 L535.7,291.3 L536.2,292.1 L536.7,292.9 L537.2,293.6 L537.7,294.4 L538.2,295.1 L538.7,295.8 L539.2,296.5 L539.7,297.1 L540.0,297.5 L541.0,298.8 L542.0,300.1 L543.0,301.2 L544.0,302.4 L545.0,303.5 L546.0,304.5 L547.0,305.5 L548.0,306.5 L549.0,307.4 L550.0,308.2 L551.0,309.1 L552.0,309.9 L553.0,310.6 L554.0,311.4 L555.0,312.0 L556.0,312.7 L557.0,313.3 L558.0,313.9 L559.0,314.5 L560.0,315.0 L561.0,315.6 L562.0,316.1 L563.0,316.5 L564.0,317.0 L565.0,317.4 L566.0,317.8 L567.0,318.1 L568.0,318.5 L569.0,318.8 L570.0,319.1 L571.0,319.4 L572.0,319.6 L573.0,319.9 L574.0,320.1 L575.0,320.3 L576.0,320.5 L577.0,320.7 L578.0,320.8 L579.0,321.0 L580.0,321.1 L581.0,321.2 L582.0,321.3 L583.0,321.4 L584.0,321.4 L585.0,321.5 L586.0,321.5 L587.0,321.5 L588.0,321.5 L589.0,321.5 L590.0,321.5 L591.0,321.5 L592.0,321.4 L593.0,321.4 L594.0,321.3 L595.0,321.2 L596.0,321.2 L597.0,321.1 L598.0,321.0 L599.0,320.8 L600.0,320.7 L601.0,320.6 L602.0,320.4 L603.0,320.3 L604.0,320.1 L605.0,319.9 L606.0,319.8 L607.0,319.6 L608.0,319.4 L609.0,319.2 L610.0,318.9 L611.0,318.7 L612.0,318.5 L613.0,318.3 L614.0,318.0 L615.0,317.8 L616.0,317.5 L617.0,317.2 L618.0,317.0 L619.0,316.7 L620.0,316.4 L621.0,316.1 L622.0,315.8 L623.0,315.5 L624.0,315.2 L625.0,314.9 L626.0,314.6 L627.0,314.2 L628.0,313.9 L629.0,313.6 L630.0,313.2 L631.0,312.9 L632.0,312.5 L633.0,312.2 L634.0,311.8 L635.0,311.4 L636.0,311.1 L637.0,310.7 L638.0,310.3 L639.0,309.9 L640.0,309.5 L641.0,309.1 L642.0,308.7 L643.0,308.3 L644.0,307.9 L645.0,307.5 L646.0,307.1 L647.0,306.7 L648.0,306.3 L649.0,305.8 L650.0,305.4 L651.0,305.0 L652.0,304.6 L653.0,304.1 L654.0,303.7 L655.0,303.2 L656.0,302.8 L657.0,302.3 L658.0,301.9 L659.0,301.4 L660.0,301.0 L661.0,300.5 L662.0,300.0 L663.0,299.6 L664.0,299.1 L665.0,298.6 L666.0,298.2 L667.0,297.7 L668.0,297.2 L669.0,296.7 L670.0,296.2 L671.0,295.7 L672.0,295.2 L673.0,294.8 L674.0,294.3 L675.0,293.8 L676.0,293.3 L677.0,292.8 L678.0,292.3 L679.0,291.8 L680.0,291.3 L681.0,290.7 L682.0,290.2 L683.0,289.7 L684.0,289.2 L685.0,288.7 L686.0,288.2 L687.0,287.6 L688.0,287.1 L689.0,286.6 L690.0,286.1 L691.0,285.5 L692.0,285.0 L693.0,284.5 L694.0,284.0 L695.0,283.4 L696.0,282.9 L697.0,282.4 L698.0,281.8 L699.0,281.3 L700.0,280.7 L701.0,280.2 L702.0,279.7 L703.0,279.1 L704.0,278.6 L705.0,278.0 L706.0,277.5 L707.0,276.9 L708.0,276.4 L709.0,275.8 L710.0,275.3 L711.0,274.7 L712.0,274.2 L713.0,273.6 L714.0,273.0 L715.0,272.5 L716.0,271.9 L717.0,271.4 L718.0,270.8 L719.0,270.2 L720.0,269.7 L721.0,269.1 L722.0,268.6 L723.0,268.0 L724.0,267.4 L725.0,266.9 L726.0,266.3 L727.0,265.7 L728.0,265.2 L729.0,264.6 L730.0,264.0 L731.0,263.4 L732.0,262.9 L733.0,262.3 L734.0,261.7 L735.0,261.1 L736.0,260.6 L737.0,260.0 L738.0,259.4 L739.0,258.8 L740.0,258.3 L741.0,257.7 L742.0,257.1 L743.0,256.5 L744.0,255.9 L745.0,255.4 L746.0,254.8 L747.0,254.2 L748.0,253.6 L749.0,253.0 L750.0,252.5 L751.0,251.9 L752.0,251.3 L753.0,250.7 L754.0,250.1 L755.0,249.5 L756.0,248.9 L757.0,248.4 L758.0,247.8 L759.0,247.2 L760.0,246.6 L761.0,246.0 L762.0,245.4 L763.0,244.8 L764.0,244.2 L765.0,243.7 L766.0,243.1 L767.0,242.5 L768.0,241.9 L769.0,241.3 L770.0,240.7 L771.0,240.1 L772.0,239.5 L773.0,238.9 L774.0,238.3 L775.0,237.7 L776.0,237.2 L777.0,236.6 L778.0,236.0 L779.0,235.4 L780.0,234.8 L781.0,234.2 L782.0,233.6 L783.0,233.0 L784.0,232.4 L785.0,231.8 L786.0,231.2 L787.0,230.6 L788.0,230.0 L789.0,229.4 L790.0,228.8 L791.0,228.2 L792.0,227.6 L793.0,227.1 L794.0,226.5 L795.0,225.9 L796.0,225.3 L797.0,224.7 L798.0,224.1 L799.0,223.5 L800.0,222.9 L801.0,222.3 L802.0,221.7 L803.0,221.1 L804.0,220.5 L805.0,219.9 L806.0,219.3 L807.0,218.7" stroke="#f00" stroke-width="2.2" stroke-dasharray="25.2 8.7 4.3 8.7"/>
</g>
<path d="M68.98,465.90v-3.4M68.98,11.35v3.4M95.44,465.90v-3.4M95.44,11.35v3.4M121.90,465.90v-6.6M121.90,11.35v6.6M148.36,465.90v-3.4M148.36,11.35v3.4M174.82,465.90v-3.4M174.82,11.35v3.4M201.28,465.90v-3.4M201.28,11.35v3.4M227.74,465.90v-3.4M227.74,11.35v3.4M254.20,465.90v-6.6M254.20,11.35v6.6M280.66,465.90v-3.4M280.66,11.35v3.4M307.12,465.90v-3.4M307.12,11.35v3.4M333.58,465.90v-3.4M333.58,11.35v3.4M360.04,465.90v-3.4M360.04,11.35v3.4M55.75,29.53h3.4M386.50,29.53h-3.4M55.75,47.71h3.4M386.50,47.71h-3.4M55.75,65.90h3.4M386.50,65.90h-3.4M55.75,84.08h3.4M386.50,84.08h-3.4M55.75,102.26h6.6M386.50,102.26h-6.6M55.75,120.44h3.4M386.50,120.44h-3.4M55.75,138.62h3.4M386.50,138.62h-3.4M55.75,156.81h3.4M386.50,156.81h-3.4M55.75,174.99h3.4M386.50,174.99h-3.4M55.75,193.17h6.6M386.50,193.17h-6.6M55.75,211.35h3.4M386.50,211.35h-3.4M55.75,229.53h3.4M386.50,229.53h-3.4M55.75,247.72h3.4M386.50,247.72h-3.4M55.75,265.90h3.4M386.50,265.90h-3.4M55.75,284.08h6.6M386.50,284.08h-6.6M55.75,302.26h3.4M386.50,302.26h-3.4M55.75,320.44h3.4M386.50,320.44h-3.4M55.75,338.63h3.4M386.50,338.63h-3.4M55.75,356.81h3.4M386.50,356.81h-3.4M55.75,374.99h6.6M386.50,374.99h-6.6M55.75,393.17h3.4M386.50,393.17h-3.4M55.75,411.35h3.4M386.50,411.35h-3.4M55.75,429.54h3.4M386.50,429.54h-3.4M55.75,447.72h3.4M386.50,447.72h-3.4" stroke="#000" stroke-width="1.45"/>
<path d="M501.43,465.90v-3.4M501.43,11.35v3.4M526.90,465.90v-3.4M526.90,11.35v3.4M552.36,465.90v-6.6M552.36,11.35v6.6M577.82,465.90v-3.4M577.82,11.35v3.4M603.29,465.90v-3.4M603.29,11.35v3.4M628.75,465.90v-3.4M628.75,11.35v3.4M654.22,465.90v-3.4M654.22,11.35v3.4M679.68,465.90v-6.6M679.68,11.35v6.6M705.14,465.90v-3.4M705.14,11.35v3.4M730.61,465.90v-3.4M730.61,11.35v3.4M756.07,465.90v-3.4M756.07,11.35v3.4M781.54,465.90v-3.4M781.54,11.35v3.4M488.70,34.08h3.4M807.00,34.08h-3.4M488.70,56.80h3.4M807.00,56.80h-3.4M488.70,79.53h3.4M807.00,79.53h-3.4M488.70,102.26h3.4M807.00,102.26h-3.4M488.70,124.99h6.6M807.00,124.99h-6.6M488.70,147.71h3.4M807.00,147.71h-3.4M488.70,170.44h3.4M807.00,170.44h-3.4M488.70,193.17h3.4M807.00,193.17h-3.4M488.70,215.90h3.4M807.00,215.90h-3.4M488.70,238.62h6.6M807.00,238.62h-6.6M488.70,261.35h3.4M807.00,261.35h-3.4M488.70,284.08h3.4M807.00,284.08h-3.4M488.70,306.81h3.4M807.00,306.81h-3.4M488.70,329.53h3.4M807.00,329.53h-3.4M488.70,352.26h6.6M807.00,352.26h-6.6M488.70,374.99h3.4M807.00,374.99h-3.4M488.70,397.72h3.4M807.00,397.72h-3.4M488.70,420.44h3.4M807.00,420.44h-3.4M488.70,443.17h3.4M807.00,443.17h-3.4" stroke="#000" stroke-width="1.45"/>
<rect x="55.75" y="11.35" width="330.75" height="454.55" fill="none" stroke="#000" stroke-width="1.8"/>
<rect x="488.70" y="11.35" width="318.30" height="454.55" fill="none" stroke="#000" stroke-width="1.8"/>
<!-- legend -->
<path d="M80.8,337.8H152.3" stroke="#000" stroke-width="1.8"/>
<path d="M80.8,367.7H152.3" stroke="#000" stroke-width="2.6" stroke-dasharray="4.4 4.56"/>
<path d="M81,398.3H152.3" stroke="#00f" stroke-width="1.8" stroke-dasharray="16.8 8.6"/>
<path d="M81,428.3H152.3" stroke="#f00" stroke-width="1.8" stroke-dasharray="25 9 4.3 9"/>
</g>
<g font-family="'Liberation Serif', serif" fill="#000" stroke="#fff" stroke-width="0.25">
<g font-size="25.5">
<text x="43.6" y="18.1" text-anchor="end">0.08</text><text x="43.6" y="109.1" text-anchor="end">0.07</text><text x="43.6" y="200.0" text-anchor="end">0.06</text><text x="43.6" y="290.9" text-anchor="end">0.05</text><text x="43.6" y="381.8" text-anchor="end">0.04</text><text x="43.6" y="472.7" text-anchor="end">0.03</text>
<text x="476.6" y="18.1" text-anchor="end">0.08</text><text x="476.6" y="131.8" text-anchor="end">0.075</text><text x="476.6" y="245.4" text-anchor="end">0.07</text><text x="476.6" y="359.1" text-anchor="end">0.065</text><text x="476.6" y="472.7" text-anchor="end">0.06</text>
<text x="110.0" y="493.4" textLength="24.5" lengthAdjust="spacingAndGlyphs">10</text><text x="242.3" y="493.4" textLength="24.5" lengthAdjust="spacingAndGlyphs">20</text><text x="374.6" y="493.4" textLength="24.5" lengthAdjust="spacingAndGlyphs">30</text>
<text x="540.4" y="493.4" textLength="24.5" lengthAdjust="spacingAndGlyphs">10</text><text x="667.7" y="493.4" textLength="24.5" lengthAdjust="spacingAndGlyphs">20</text><text x="795.0" y="493.4" textLength="24.5" lengthAdjust="spacingAndGlyphs">30</text>
</g>
<g font-size="23.6" stroke-width="0.2">
<text x="165.0" y="344.4" textLength="67.6" lengthAdjust="spacingAndGlyphs">NNLO</text>
<text x="165.0" y="374.2" textLength="29.5" lengthAdjust="spacingAndGlyphs">LL</text>
<text x="165.0" y="404.5" textLength="46.7" lengthAdjust="spacingAndGlyphs">NLL</text>
<text x="165.0" y="434.5" textLength="64.0" lengthAdjust="spacingAndGlyphs">NNLL</text>
</g>
<!-- axis labels N -->
<g font-style="italic" font-size="26">
<text x="307.7" y="512" textLength="18.3" lengthAdjust="spacingAndGlyphs">N</text>
<text x="734.9" y="512" textLength="18.0" lengthAdjust="spacingAndGlyphs">N</text>
</g>
<!-- titles -->
<g font-size="32" stroke="#fff" stroke-width="0.45">
<text x="252" y="72.2" font-style="italic" textLength="24.3" lengthAdjust="spacingAndGlyphs">N</text>
<text x="278.4" y="72.2" font-style="italic" textLength="20.8" lengthAdjust="spacingAndGlyphs">P</text>
<text x="297.6" y="75.4" font-size="20.5" stroke-width="0.2" textLength="20.7" lengthAdjust="spacingAndGlyphs">qg</text>
<text x="321" y="72.4" textLength="9" lengthAdjust="spacingAndGlyphs" font-size="31">(</text>
<text x="333.0" y="72.2" font-style="italic" textLength="24.4" lengthAdjust="spacingAndGlyphs">N</text>
<text x="359.7" y="72.4" textLength="9" lengthAdjust="spacingAndGlyphs" font-size="31">)</text>
</g>
<g font-size="32" transform="translate(427,0.2)" stroke="#fff" stroke-width="0.45">
<text x="252" y="72.2" font-style="italic" textLength="24.3" lengthAdjust="spacingAndGlyphs">N</text>
<text x="278.4" y="72.2" font-style="italic" textLength="20.8" lengthAdjust="spacingAndGlyphs">P</text>
<text x="297.6" y="75.4" font-size="20.5" stroke-width="0.2" textLength="20.7" lengthAdjust="spacingAndGlyphs">gq</text>
<text x="321" y="72.4" textLength="9" lengthAdjust="spacingAndGlyphs" font-size="31">(</text>
<text x="333.0" y="72.2" font-style="italic" textLength="24.4" lengthAdjust="spacingAndGlyphs">N</text>
<text x="359.7" y="72.4" textLength="9" lengthAdjust="spacingAndGlyphs" font-size="31">)</text>
</g>
<!-- annotation -->
<g font-size="23.5">
<text x="601.5" y="438.1" font-style="italic" textLength="15" lengthAdjust="spacingAndGlyphs">&#945;</text>
<text x="616.6" y="442.5" font-size="17" textLength="7.1" lengthAdjust="spacingAndGlyphs" stroke-width="0.1">s</text>
<text x="631.5" y="441.3" textLength="18.3" lengthAdjust="spacingAndGlyphs" font-size="26">=</text>
<text x="657.6" y="438.3" textLength="38.4" lengthAdjust="spacingAndGlyphs" font-size="25">0.2,</text>
<text x="709.6" y="438.3" font-style="italic" textLength="14.2" lengthAdjust="spacingAndGlyphs">n</text>
<text transform="translate(724.5,442.3) scale(1.59,1)" font-size="15.3" font-style="italic" stroke-width="0.1">f</text>
<text x="743" y="441.3" textLength="18.3" lengthAdjust="spacingAndGlyphs" font-size="26">=</text>
<text x="768.9" y="438.3" font-size="25" textLength="13.3" lengthAdjust="spacingAndGlyphs">4</text>
</g>
</g>
</svg>
</body></html>
